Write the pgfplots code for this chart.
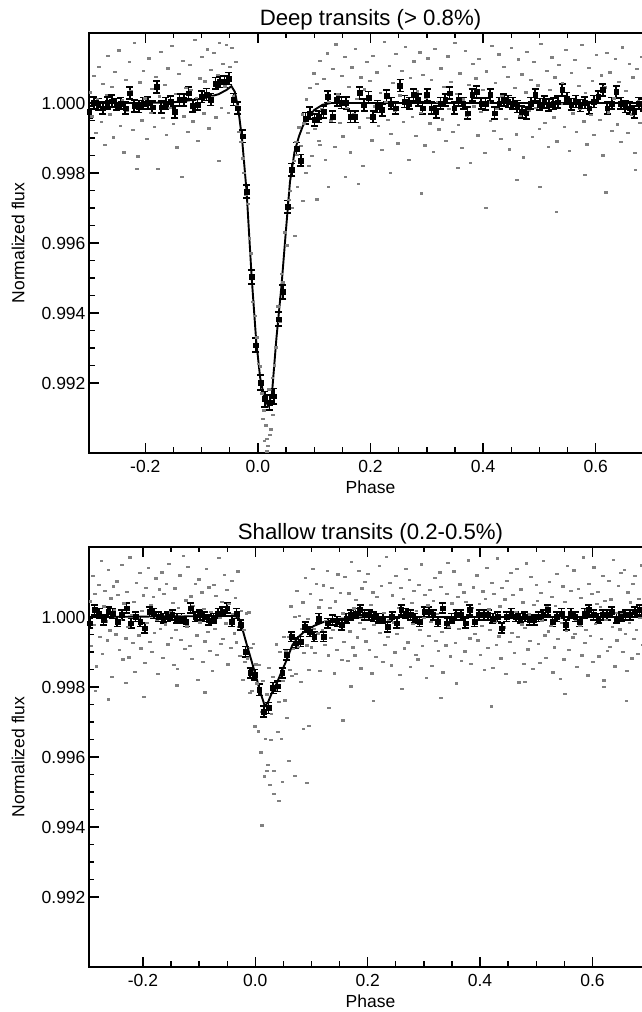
\documentclass[border=0pt]{standalone}
\usepackage{fontspec}
\setmainfont{Liberation Sans}
\usepackage{pgfplots}
\usepackage{pgfplotstable}
\pgfplotsset{compat=1.18}

% ---------- top panel: binned points ----------
\pgfplotstableread{
x y e
-0.2995 0.99975 0.00017
-0.2915 1.00000 0.00017
-0.2835 0.99996 0.00017
-0.2755 0.99985 0.00017
-0.2675 1.00000 0.00017
-0.2595 1.00005 0.00017
-0.2515 0.99996 0.00017
-0.2435 0.99999 0.00017
-0.2355 0.99985 0.00017
-0.2275 1.00028 0.00017
-0.2195 0.99992 0.00017
-0.2115 0.99990 0.00017
-0.2035 0.99999 0.00017
-0.1955 1.00000 0.00017
-0.1875 0.99988 0.00017
-0.1795 1.00046 0.00017
-0.1715 0.99988 0.00017
-0.1635 0.99999 0.00017
-0.1555 1.00003 0.00017
-0.1475 0.99975 0.00017
-0.1395 1.00009 0.00017
-0.1315 1.00009 0.00017
-0.1235 1.00028 0.00017
-0.1155 0.99992 0.00017
-0.1075 0.99996 0.00017
-0.0995 1.00018 0.00017
-0.0915 1.00024 0.00017
-0.0835 1.00010 0.00017
-0.0755 1.00056 0.00017
-0.0675 1.00061 0.00017
-0.0595 1.00061 0.00017
-0.0515 1.00070 0.00017
-0.0435 1.00010 0.00017
-0.0355 0.99985 0.00017
-0.0275 0.99905 0.00018
-0.0195 0.99747 0.00018
-0.0115 0.99503 0.00020
-0.0035 0.99308 0.00020
0.0045 0.99201 0.00022
0.0125 0.99154 0.00022
0.0205 0.99144 0.00022
0.0285 0.99162 0.00022
0.0365 0.99382 0.00020
0.0445 0.99460 0.00020
0.0525 0.99703 0.00018
0.0605 0.99809 0.00018
0.0685 0.99870 0.00017
0.0765 0.99836 0.00017
0.0845 0.99956 0.00017
0.0925 0.99971 0.00017
0.1005 0.99952 0.00017
0.1085 0.99961 0.00017
0.1165 0.99975 0.00017
0.1245 1.00018 0.00017
0.1325 0.99961 0.00017
0.1405 1.00009 0.00017
0.1485 1.00001 0.00017
0.1565 1.00000 0.00017
0.1645 0.99961 0.00017
0.1725 0.99961 0.00017
0.1805 1.00029 0.00017
0.1885 0.99994 0.00017
0.1965 1.00016 0.00017
0.2045 0.99961 0.00017
0.2125 0.99990 0.00017
0.2205 0.99980 0.00017
0.2285 1.00020 0.00017
0.2365 0.99999 0.00017
0.2445 0.99985 0.00017
0.2525 1.00050 0.00017
0.2605 1.00004 0.00017
0.2685 0.99999 0.00017
0.2765 1.00023 0.00017
0.2845 1.00009 0.00017
0.2925 0.99985 0.00017
0.3005 1.00023 0.00017
0.3085 0.99985 0.00017
0.3165 0.99975 0.00017
0.3245 0.99999 0.00017
0.3325 1.00009 0.00017
0.3405 1.00028 0.00017
0.3485 0.99985 0.00017
0.3565 1.00009 0.00017
0.3645 0.99999 0.00017
0.3725 0.99971 0.00017
0.3805 1.00023 0.00017
0.3885 1.00032 0.00017
0.3965 0.99999 0.00017
0.4045 0.99997 0.00017
0.4125 1.00023 0.00017
0.4205 0.99971 0.00017
0.4285 0.99999 0.00017
0.4365 1.00009 0.00017
0.4445 1.00004 0.00017
0.4525 0.99999 0.00017
0.4605 0.99990 0.00017
0.4685 0.99975 0.00017
0.4765 0.99971 0.00017
0.4845 0.99999 0.00017
0.4925 1.00023 0.00017
0.5005 0.99996 0.00017
0.5085 1.00003 0.00017
0.5165 0.99994 0.00017
0.5245 0.99998 0.00017
0.5325 1.00002 0.00017
0.5405 1.00037 0.00017
0.5485 1.00013 0.00017
0.5565 0.99996 0.00017
0.5645 1.00004 0.00017
0.5725 0.99993 0.00017
0.5805 1.00001 0.00017
0.5885 0.99985 0.00017
0.5965 1.00004 0.00017
0.6045 1.00018 0.00017
0.6125 1.00037 0.00017
0.6205 0.99985 0.00017
0.6285 0.99999 0.00017
0.6365 1.00032 0.00017
0.6445 0.99999 0.00017
0.6525 0.99990 0.00017
0.6605 0.99985 0.00017
0.6685 0.99975 0.00017
0.6765 0.99999 0.00017
0.6845 0.99995 0.00017
0.6925 1.00000 0.00017
}\topbins

% ---------- top panel: individual measurements ----------
\pgfplotstableread{
x y
-0.2980 1.00031
-0.2949 0.99962
-0.2912 1.00078
-0.2886 0.99915
-0.2852 1.00012
-0.2823 1.00104
-0.2783 0.99947
-0.2759 1.00056
-0.2724 0.99881
-0.2694 1.00023
-0.2666 1.00135
-0.2635 0.99968
-0.2598 1.00047
-0.2572 0.99902
-0.2538 1.00089
-0.2509 0.99994
-0.2469 1.00151
-0.2445 0.99936
-0.2410 1.00008
-0.2380 0.99859
-0.2352 1.00066
-0.2321 0.99977
-0.2284 1.00118
-0.2258 1.00035
-0.2224 0.99924
-0.2195 1.00172
-0.2155 0.99989
-0.2131 0.99848
-0.2096 1.00059
-0.2066 0.99951
-0.2038 1.00093
-0.2007 1.00014
-0.1970 0.99897
-0.1944 1.00128
-0.1910 0.99972
-0.1881 1.00041
-0.1841 0.99933
-0.1817 1.00076
-0.1782 0.99812
-0.1752 1.00019
-0.1724 1.00147
-0.1693 0.99958
-0.1656 1.00052
-0.1630 0.99909
-0.1596 1.00099
-0.1567 0.99986
-0.1527 1.00163
-0.1503 0.99941
-0.1468 1.00027
-0.1438 0.99874
-0.1410 1.00083
-0.1379 1.00005
-0.1342 1.00121
-0.1316 0.99962
-0.1282 1.00044
-0.1253 0.99918
-0.1213 1.00109
-0.1189 1.00037
-0.1154 0.99948
-0.1124 1.00180
-0.1096 1.00015
-0.1065 0.99893
-0.1028 1.00071
-0.1002 1.00133
-0.0968 0.99971
-0.0939 1.00062
-0.0899 1.00154
-0.0875 0.99928
-0.0840 1.00095
-0.0810 1.00017
-0.0782 1.00143
-0.0751 0.99959
-0.0714 1.00081
-0.0688 1.00173
-0.0654 0.99986
-0.0625 1.00112
-0.0585 1.00048
-0.0561 1.00166
-0.0526 0.99973
-0.0496 1.00104
-0.0468 1.00157
-0.0437 1.00021
-0.0400 1.00118
-0.0374 0.99992
-0.0340 0.99918
-0.0311 0.99889
-0.0271 0.99842
-0.0247 0.99801
-0.0212 0.99739
-0.0182 0.99712
-0.0154 0.99614
-0.0123 0.99571
-0.0086 0.99433
-0.0060 0.99392
-0.0026 0.99331
0.0003 0.99256
0.0043 0.99248
0.0067 0.99171
0.0102 0.99122
0.0132 0.99079
0.0160 0.99041
0.0191 0.99182
0.0228 0.99068
0.0254 0.99215
0.0288 0.99251
0.0317 0.99302
0.0357 0.99419
0.0381 0.99376
0.0416 0.99512
0.0446 0.99488
0.0474 0.99631
0.0505 0.99594
0.0542 0.99724
0.0568 0.99749
0.0602 0.99812
0.0631 0.99835
0.0671 0.99889
0.0695 0.99853
0.0730 0.99931
0.0760 0.99878
0.0788 0.99968
0.0819 0.99942
0.0856 1.00011
0.0882 0.99915
0.0916 1.00043
0.0945 0.99968
0.0985 1.00085
0.1009 0.99927
0.1044 1.00056
0.1074 0.99893
0.1102 1.00121
0.1133 0.99982
0.1170 1.00069
0.1196 0.99838
0.1230 1.00142
0.1259 1.00003
0.1299 0.99951
0.1323 1.00097
0.1358 0.99876
0.1388 1.00168
0.1416 1.00025
0.1447 0.99944
0.1484 1.00078
0.1510 0.99905
0.1544 1.00133
0.1573 0.99987
0.1613 1.00046
0.1637 0.99859
0.1672 1.00102
0.1702 0.99968
0.1730 1.00155
0.1761 1.00012
0.1798 0.99931
0.1824 1.00074
0.1858 0.99821
0.1887 1.00039
0.1927 1.00117
0.1951 0.99957
0.1986 1.00063
0.2016 0.99894
0.2044 1.00136
0.2075 0.99991
0.2112 1.00088
0.2138 0.99936
0.2172 1.00029
0.2201 0.99867
0.2241 1.00176
0.2265 1.00004
0.2300 0.99952
0.2330 1.00107
0.2358 0.99913
0.2389 1.00058
0.2426 0.99979
0.2452 1.00141
0.2486 0.99885
0.2515 1.00022
0.2555 1.00093
0.2579 0.99946
0.2614 1.00161
0.2644 0.99999
0.2672 0.99838
0.2703 1.00072
0.2740 0.99961
0.2766 1.00119
0.2800 0.99906
0.2829 1.00034
0.2869 1.00145
0.2893 0.99972
0.2928 1.00081
0.2958 0.99879
0.2986 1.00015
0.3017 1.00128
0.3054 0.99942
0.3080 1.00067
0.3114 0.99861
0.3143 1.00156
0.3183 1.00003
0.3207 0.99925
0.3242 1.00099
0.3272 0.99954
0.3300 1.00047
0.3331 0.99892
0.3368 1.00134
0.3394 0.99983
0.3428 1.00061
0.3457 0.99918
0.3497 1.00172
0.3521 1.00026
0.3556 0.99937
0.3586 1.00085
0.3614 0.99873
0.3645 1.00011
0.3682 1.00149
0.3708 0.99965
0.3742 1.00053
0.3771 0.99829
0.3811 1.00113
0.3835 0.99991
0.3870 1.00071
0.3900 0.99908
0.3928 1.00127
0.3959 0.99976
0.3996 1.00038
0.4022 0.99857
0.4056 1.00091
0.4085 1.00002
0.4125 0.99949
0.4149 1.00163
0.4184 0.99921
0.4214 1.00057
0.4242 0.99983
0.4273 1.00139
0.4310 0.99897
0.4336 1.00019
0.4370 1.00104
0.4399 0.99955
0.4439 1.00076
0.4463 0.99868
0.4498 1.00158
0.4528 0.99994
0.4556 1.00044
0.4587 0.99911
0.4624 1.00125
0.4650 0.99963
0.4684 1.00082
0.4713 0.99845
0.4753 1.00031
0.4777 1.00147
0.4812 0.99978
0.4842 1.00066
0.4870 0.99903
0.4901 1.00118
0.4938 0.99987
0.4964 1.00051
0.4998 0.99926
0.5027 1.00169
0.5067 1.00008
0.5091 0.99944
0.5126 1.00092
0.5156 0.99876
0.5184 1.00037
0.5215 1.00131
0.5252 0.99959
0.5278 1.00074
0.5312 0.99891
0.5341 1.00109
0.5381 0.99997
0.5405 1.00058
0.5440 0.99932
0.5470 1.00152
0.5498 1.00013
0.5529 0.99864
0.5566 1.00087
0.5592 0.99971
0.5626 1.00124
0.5655 0.99917
0.5695 1.00049
0.5719 0.99985
0.5754 1.00166
0.5784 0.99948
0.5812 1.00029
0.5843 0.99882
0.5880 1.00101
0.5906 0.99966
0.5940 1.00063
0.5969 0.99909
0.6009 1.00137
0.6033 1.00018
0.6068 0.99953
0.6098 1.00079
0.6126 0.99851
0.6157 1.00045
0.6194 1.00143
0.6220 0.99974
0.6254 1.00088
0.6283 0.99921
0.6323 1.00014
0.6347 1.00127
0.6382 0.99939
0.6412 1.00061
0.6440 0.99889
0.6471 1.00159
0.6508 0.99992
0.6534 1.00036
0.6568 0.99915
0.6597 1.00112
0.6637 0.99968
0.6661 1.00074
0.6696 0.99857
0.6726 1.00098
0.6754 1.00005
0.6785 0.99943
0.6822 1.00132
0.6848 0.99979
0.6882 1.00057
0.6911 0.99902
0.6951 1.00119
0.6975 0.99961
-0.2150 0.99812
-0.1350 0.99790
-0.0700 0.99835
0.0900 0.99820
0.1050 0.99725
0.1250 0.99760
0.1550 0.99790
0.1780 0.99770
0.2350 0.99800
0.2900 0.99742
0.3550 0.99815
0.4050 0.99700
0.4600 0.99780
0.5000 0.99760
0.5300 0.99690
0.5800 0.99795
0.6180 0.99745
0.6700 0.99810
0.0080 0.99098
0.0110 0.99035
0.0170 0.99021
0.0210 0.99052
0.0260 0.99110
0.0150 0.99005
0.0600 0.99700
0.0650 0.99620
0.0700 0.99760
0.0800 0.99720
0.0850 0.99800
0.0950 0.99850
0.1100 0.99880
}\topscatter

% ---------- bottom panel: binned points ----------
\pgfplotstableread{
x y e
-0.29450 0.99982 0.00014
-0.28635 1.00020 0.00014
-0.27820 1.00010 0.00014
-0.27005 0.99991 0.00014
-0.26190 1.00015 0.00014
-0.25375 1.00010 0.00014
-0.24560 0.99987 0.00014
-0.23745 1.00006 0.00014
-0.22930 1.00025 0.00014
-0.22115 0.99982 0.00014
-0.21300 1.00001 0.00014
-0.20485 0.99987 0.00014
-0.19670 0.99968 0.00014
-0.18855 1.00015 0.00014
-0.18040 1.00010 0.00014
-0.17225 1.00001 0.00014
-0.16410 0.99996 0.00014
-0.15595 1.00001 0.00014
-0.14780 1.00006 0.00014
-0.13965 0.99996 0.00014
-0.13150 0.99996 0.00014
-0.12335 0.99987 0.00014
-0.11520 1.00025 0.00014
-0.10705 1.00001 0.00014
-0.09890 1.00006 0.00014
-0.09075 1.00001 0.00014
-0.08260 0.99991 0.00014
-0.07445 0.99996 0.00014
-0.06630 1.00010 0.00014
-0.05815 1.00015 0.00014
-0.05000 1.00025 0.00014
-0.04185 0.99987 0.00014
-0.03370 1.00010 0.00014
-0.02555 0.99977 0.00014
-0.01740 0.99901 0.00015
-0.00925 0.99840 0.00015
-0.00110 0.99835 0.00015
0.00705 0.99792 0.00016
0.01520 0.99730 0.00016
0.02335 0.99740 0.00016
0.03150 0.99797 0.00016
0.03965 0.99802 0.00015
0.04780 0.99840 0.00015
0.05595 0.99892 0.00015
0.06410 0.99944 0.00014
0.07225 0.99925 0.00014
0.08040 0.99930 0.00014
0.08855 0.99972 0.00014
0.09670 0.99958 0.00014
0.10485 0.99944 0.00014
0.11300 0.99996 0.00014
0.12115 0.99944 0.00014
0.12930 0.99982 0.00014
0.13745 0.99991 0.00014
0.14560 0.99987 0.00014
0.15375 0.99977 0.00014
0.16190 0.99996 0.00014
0.17005 1.00006 0.00014
0.17820 1.00010 0.00014
0.18635 1.00020 0.00014
0.19450 1.00006 0.00014
0.20265 1.00006 0.00014
0.21080 1.00001 0.00014
0.21895 0.99996 0.00014
0.22710 0.99996 0.00014
0.23525 0.99972 0.00014
0.24340 1.00001 0.00014
0.25155 0.99982 0.00014
0.25970 1.00020 0.00014
0.26785 1.00010 0.00014
0.27600 1.00006 0.00014
0.28415 0.99996 0.00014
0.29230 0.99987 0.00014
0.30045 1.00015 0.00014
0.30860 1.00015 0.00014
0.31675 1.00006 0.00014
0.32490 0.99987 0.00014
0.33305 1.00025 0.00014
0.34120 0.99982 0.00014
0.34935 0.99996 0.00014
0.35750 1.00006 0.00014
0.36565 1.00006 0.00014
0.37380 0.99982 0.00014
0.38195 1.00020 0.00014
0.39010 0.99987 0.00014
0.39825 1.00006 0.00014
0.40640 1.00006 0.00014
0.41455 1.00006 0.00014
0.42270 0.99996 0.00014
0.43085 1.00001 0.00014
0.43900 0.99968 0.00014
0.44715 1.00001 0.00014
0.45530 1.00010 0.00014
0.46345 1.00001 0.00014
0.47160 0.99996 0.00014
0.47975 1.00001 0.00014
0.48790 0.99991 0.00014
0.49605 0.99991 0.00014
0.50420 1.00001 0.00014
0.51235 1.00006 0.00014
0.52050 1.00020 0.00014
0.52865 0.99987 0.00014
0.53680 1.00001 0.00014
0.54495 1.00010 0.00014
0.55310 0.99977 0.00014
0.56125 1.00010 0.00014
0.56940 1.00001 0.00014
0.57755 0.99987 0.00014
0.58570 1.00010 0.00014
0.59385 1.00020 0.00014
0.60200 1.00006 0.00014
0.61015 0.99996 0.00014
0.61830 1.00006 0.00014
0.62645 1.00006 0.00014
0.63460 1.00015 0.00014
0.64275 0.99996 0.00014
0.65090 1.00001 0.00014
0.65905 1.00006 0.00014
0.66720 1.00006 0.00014
0.67535 1.00015 0.00014
0.68350 1.00020 0.00014
0.69165 1.00010 0.00014
0.69980 1.00006 0.00014
}\botbins

% ---------- bottom panel: individual measurements ----------
\pgfplotstableread{
x y
-0.2940 1.00045
-0.2919 0.99918
-0.2894 1.00118
-0.2876 0.99977
-0.2853 1.00067
-0.2833 0.99859
-0.2807 1.00012
-0.2788 1.00093
-0.2766 0.99943
-0.2742 1.00160
-0.2725 0.99896
-0.2704 1.00031
-0.2679 1.00076
-0.2661 0.99988
-0.2638 0.99934
-0.2618 1.00135
-0.2592 0.99962
-0.2573 1.00054
-0.2551 0.99830
-0.2527 1.00088
-0.2510 1.00021
-0.2489 0.99951
-0.2464 1.00102
-0.2446 1.00064
-0.2423 0.99907
-0.2403 0.99993
-0.2377 1.00149
-0.2358 0.99879
-0.2336 1.00039
-0.2312 0.99939
-0.2295 1.00073
-0.2274 0.99972
-0.2249 0.99885
-0.2231 1.00171
-0.2208 1.00006
-0.2188 0.99926
-0.2162 1.00043
-0.2143 0.99844
-0.2121 1.00097
-0.2097 0.99997
-0.2080 0.99948
-0.2059 1.00126
-0.2034 0.99911
-0.2016 1.00018
-0.1993 1.00062
-0.1973 0.99869
-0.1947 1.00084
-0.1928 0.99983
-0.1906 1.00140
-0.1882 0.99930
-0.1865 1.00035
-0.1844 0.99901
-0.1819 1.00057
-0.1801 0.99955
-0.1778 1.00111
-0.1758 0.99992
-0.1732 0.99837
-0.1713 1.00079
-0.1691 0.99966
-0.1667 1.00128
-0.1650 0.99883
-0.1629 1.00066
-0.1604 0.99979
-0.1586 1.00095
-0.1563 0.99922
-0.1543 1.00152
-0.1517 1.00014
-0.1498 0.99941
-0.1476 1.00041
-0.1452 0.99864
-0.1435 1.00082
-0.1414 0.99963
-0.1389 0.99852
-0.1371 1.00027
-0.1348 1.00119
-0.1328 0.99936
-0.1302 1.00003
-0.1283 1.00175
-0.1261 0.99909
-0.1237 1.00048
-0.1220 0.99974
-0.1199 1.00143
-0.1174 0.99917
-0.1156 1.00059
-0.1133 0.99881
-0.1113 1.00033
-0.1087 0.99996
-0.1068 1.00096
-0.1046 0.99948
-0.1022 0.99820
-0.1005 1.00108
-0.0984 0.99985
-0.0959 1.00071
-0.0941 0.99872
-0.0918 1.00024
-0.0898 0.99931
-0.0872 1.00137
-0.0853 0.99958
-0.0831 1.00085
-0.0807 0.99903
-0.0790 1.00016
-0.0769 0.99846
-0.0744 1.00092
-0.0726 0.99967
-0.0703 1.00061
-0.0683 0.99893
-0.0657 1.00169
-0.0638 0.99998
-0.0616 0.99924
-0.0592 1.00044
-0.0575 0.99937
-0.0554 1.00121
-0.0529 0.99982
-0.0511 1.00077
-0.0488 0.99865
-0.0468 1.00038
-0.0442 0.99912
-0.0423 1.00104
-0.0401 1.00009
-0.0377 0.99954
-0.0360 1.00055
-0.0339 0.99928
-0.0314 1.00131
-0.0296 0.99972
-0.0273 0.99890
-0.0253 1.00017
-0.0227 0.99820
-0.0208 0.99963
-0.0186 0.99872
-0.0162 1.00011
-0.0145 0.99882
-0.0124 1.00014
-0.0099 0.99783
-0.0081 0.99912
-0.0058 0.99789
-0.0038 0.99923
-0.0012 0.99688
0.0007 0.99865
0.0029 0.99811
0.0053 0.99674
0.0070 0.99864
0.0091 0.99614
0.0116 0.99729
0.0134 0.99818
0.0157 0.99545
0.0177 0.99653
0.0203 0.99779
0.0222 0.99577
0.0244 0.99856
0.0268 0.99649
0.0285 0.99723
0.0306 0.99829
0.0331 0.99561
0.0349 0.99792
0.0372 0.99922
0.0392 0.99672
0.0418 0.99757
0.0437 0.99901
0.0459 0.99652
0.0483 0.99818
0.0500 0.99943
0.0521 0.99762
0.0546 0.99902
0.0564 0.99713
0.0587 0.99944
0.0607 0.99849
0.0633 1.00031
0.0652 0.99832
0.0674 0.99910
0.0698 1.00001
0.0715 0.99837
0.0736 1.00076
0.0761 0.99916
0.0779 1.00003
0.0802 0.99816
0.0822 0.99966
0.0848 1.00042
0.0867 0.99897
0.0889 1.00113
0.0913 0.99919
0.0930 0.99996
0.0951 0.99849
0.0976 1.00066
0.0994 0.99914
0.1017 1.00137
0.1037 0.99966
0.1063 0.99897
0.1082 1.00096
0.1104 0.99954
0.1128 1.00028
0.1145 0.99846
0.1166 1.00049
0.1191 0.99963
0.1209 1.00091
0.1232 0.99920
0.1252 0.99988
0.1278 1.00132
0.1297 0.99891
0.1319 1.00027
0.1343 0.99941
0.1360 1.00084
0.1381 0.99964
0.1406 0.99839
0.1424 1.00045
0.1447 0.99906
0.1467 1.00122
0.1493 0.99982
0.1512 1.00069
0.1534 0.99878
0.1558 1.00011
0.1575 0.99929
0.1596 1.00116
0.1621 0.99997
0.1639 0.99876
0.1662 1.00068
0.1682 0.99959
0.1708 1.00157
0.1727 0.99914
0.1749 1.00025
0.1773 0.99891
0.1790 1.00049
0.1811 0.99942
0.1836 1.00133
0.1854 0.99983
0.1877 0.99854
0.1897 1.00082
0.1923 0.99967
0.1942 1.00101
0.1964 0.99931
0.1988 1.00007
0.2005 1.00123
0.2026 0.99906
0.2051 1.00036
0.2069 0.99839
0.2092 1.00071
0.2112 0.99978
0.2138 0.99887
0.2157 1.00058
0.2179 0.99995
0.2203 1.00146
0.2220 0.99956
0.2241 1.00089
0.2266 0.99873
0.2284 1.00013
0.2307 0.99921
0.2327 1.00172
0.2353 0.99944
0.2372 0.99992
0.2394 1.00097
0.2418 0.99862
0.2435 1.00062
0.2456 0.99985
0.2481 0.99899
0.2499 1.00118
0.2522 0.99953
0.2542 1.00026
0.2568 0.99835
0.2587 1.00084
0.2609 0.99969
0.2633 1.00053
0.2650 0.99911
0.2671 1.00137
0.2696 1.00004
0.2714 0.99928
0.2737 1.00106
0.2757 0.99857
0.2783 1.00041
0.2802 0.99981
0.2824 1.00075
0.2848 0.99892
0.2865 1.00017
0.2886 0.99879
0.2911 1.00092
0.2929 0.99964
0.2952 1.00151
0.2972 0.99917
0.2998 0.99998
0.3017 1.00063
0.3039 0.99826
0.3063 1.00034
0.3080 0.99947
0.3101 1.00078
0.3126 0.99986
0.3144 0.99861
0.3167 1.00046
0.3187 1.00113
0.3213 0.99933
0.3232 1.00009
0.3254 0.99904
0.3278 1.00128
0.3295 1.00086
0.3316 0.99958
0.3341 0.99842
0.3359 1.00024
0.3382 0.99919
0.3402 1.00067
0.3428 1.00155
0.3447 0.99973
0.3469 0.99888
0.3493 1.00039
0.3510 0.99994
0.3531 1.00131
0.3556 0.99926
0.3574 0.99811
0.3597 1.00058
0.3617 0.99967
0.3643 1.00094
0.3662 0.99875
0.3684 1.00012
0.3708 1.00071
0.3725 0.99902
0.3746 1.00044
0.3771 0.99981
0.3789 1.00162
0.3812 0.99939
0.3832 0.99867
0.3858 1.00027
0.3877 1.00085
0.3899 0.99953
0.3923 0.99992
0.3940 1.00119
0.3961 0.99934
0.3986 1.00038
0.4004 0.99893
0.4027 0.99976
0.4047 1.00074
0.4073 0.99849
0.4092 1.00053
0.4114 1.00141
0.4138 0.99912
0.4155 1.00022
0.4176 0.99963
0.4201 1.00097
0.4219 0.99856
0.4242 1.00066
0.4262 0.99988
0.4288 0.99921
0.4307 1.00168
0.4329 0.99945
0.4353 1.00031
0.4370 0.99882
0.4391 1.00083
0.4416 0.99971
0.4434 1.00051
0.4457 0.99838
0.4477 1.00104
0.4503 0.99996
0.4522 0.99929
0.4544 1.00126
0.4568 0.99955
0.4585 1.00064
0.4606 0.99897
0.4631 1.00015
0.4649 1.00138
0.4672 0.99943
0.4692 0.99814
0.4718 1.00079
0.4737 0.99979
0.4759 1.00042
0.4783 0.99866
0.4800 0.99969
0.4821 1.00154
0.4846 0.99908
0.4864 1.00008
0.4887 0.99932
0.4907 1.00115
0.4933 0.99853
0.4952 1.00036
0.4974 0.99987
0.4998 1.00092
0.5015 1.00047
0.5036 0.99924
0.5061 0.99869
0.5079 1.00069
0.5102 0.99991
0.5122 1.00161
0.5148 0.99948
0.5167 0.99884
0.5189 1.00028
0.5213 0.99959
0.5230 1.00101
0.5251 0.99976
0.5276 1.00057
0.5294 0.99842
0.5317 0.99914
0.5337 1.00033
0.5363 1.00124
0.5382 0.99937
0.5404 0.99999
0.5428 0.99823
0.5445 0.99984
0.5466 1.00088
0.5491 0.99879
0.5509 1.00043
0.5532 0.99961
0.5552 1.00147
0.5578 0.99906
0.5597 1.00011
0.5619 1.00076
0.5643 0.99942
0.5660 1.00134
0.5681 0.99953
0.5706 0.99994
0.5724 0.99858
0.5747 1.00081
0.5767 0.99975
0.5793 1.00056
0.5812 0.99891
0.5834 1.00171
0.5858 0.99927
0.5875 0.99963
0.5896 1.00019
0.5921 0.99834
0.5939 1.00095
0.5962 0.99946
0.5982 1.00066
0.6008 0.99872
0.6027 1.00142
0.6049 0.99981
0.6073 1.00037
0.6090 1.00073
0.6111 0.99888
0.6136 1.00029
0.6154 0.99937
0.6177 1.00118
0.6197 0.99819
0.6223 1.00046
0.6242 0.99992
0.6264 0.99904
0.6288 1.00104
0.6305 0.99916
0.6326 1.00051
0.6351 0.99973
0.6369 1.00163
0.6392 0.99859
0.6412 1.00012
0.6438 0.99934
0.6457 1.00089
0.6479 0.99965
0.6503 1.00127
0.6520 1.00008
0.6541 0.99901
0.6566 1.00136
0.6584 0.99952
0.6607 0.99847
0.6627 1.00071
0.6653 0.99983
0.6672 1.00042
0.6694 0.99882
0.6718 1.00096
0.6735 0.99938
0.6756 1.00117
0.6781 0.99964
0.6799 0.99895
0.6822 1.00053
0.6842 0.99998
0.6868 1.00148
0.6887 0.99921
0.6909 1.00024
0.6933 0.99869
0.6950 1.00065
0.6971 0.99957
0.6996 1.00109
0.7014 0.99912
0.7037 1.00014
-0.2850 0.99790
-0.2620 0.99765
-0.2310 0.99812
-0.1980 0.99772
-0.1400 0.99805
-0.0900 0.99785
0.0950 0.99690
0.1300 0.99740
0.1550 0.99705
0.1700 0.99802
0.2100 0.99760
0.2600 0.99795
0.3300 0.99770
0.4200 0.99745
0.4800 0.99815
0.5500 0.99780
0.6200 0.99800
0.6600 0.99760
0.0120 0.99405
0.0250 0.99520
0.0330 0.99495
0.0410 0.99475
0.0200 0.99560
0.0480 0.99530
0.0600 0.99590
0.0700 0.99547
0.0850 0.99680
0.0910 0.99527
}\botscatter

\pgfplotsset{
  panel/.style={
    scale only axis, width=563pt, height=420pt,
    ymin=0.990, ymax=1.002,
    scaled x ticks=false, scaled y ticks=false,
    xtick={-0.2,0,0.2,0.4,0.6},
    ytick={0.992,0.994,0.996,0.998,1.000},
    minor x tick num=3, minor y tick num=3,
    axis line style={line width=2pt},
    tick style={line width=1.4pt, black},
    major tick length=10pt, minor tick length=5.5pt,
    /pgf/number format/assume math mode=true,
    tick label style={font=\fontsize{17.5}{21}\selectfont, black},
    x tick label style={/pgf/number format/.cd, fixed, fixed zerofill, precision=1, /tikz/.cd, yshift=-4pt},
    y tick label style={/pgf/number format/.cd, fixed, fixed zerofill, precision=3, /tikz/.cd},
    xlabel={Phase}, ylabel={Normalized flux},
    every axis x label/.style={at={(axis description cs:0.5,-0.0976)}, anchor=base, font=\fontsize{17.5}{21}\selectfont},
    every axis y label/.style={at={(axis description cs:-0.1261,0.5)}, rotate=90, anchor=center, font=\fontsize{17.5}{21}\selectfont},
    every axis title/.style={at={(axis description cs:0.5,1.019)}, anchor=base, font=\fontsize{22.2}{26}\selectfont},
  },
  scatterpts/.style={only marks, mark=square*, mark size=0.65pt, color=black!50, mark options={xscale=2.1, draw=none, fill=black!50}},
  binpts/.style={only marks, mark=square*, mark size=2.4pt, black,
    error bars/.cd, y dir=both, y explicit,
    error bar style={line width=1.7pt, black},
    error mark options={rotate=90, line width=1.7pt, mark size=3.5pt, black}},
  modelline/.style={black, line width=1.9pt, no marks},
}

\begin{document}
\begin{tikzpicture}[x=1pt,y=1pt]
\begin{axis}[panel, at={(89pt,559pt)}, anchor=south west,
  xmin=-0.3, xmax=0.7, title={Deep transits (> 0.8\%)}]
\addplot[scatterpts] table[x=x,y=y] {\topscatter};
\addplot[modelline] coordinates {(-0.300,1.00000) (-0.200,1.00000) (-0.150,1.00002) (-0.100,1.00012) (-0.070,1.00025) (-0.055,1.00038) (-0.047,1.00048) (-0.041,1.00032) (-0.035,0.99985) (-0.028,0.99895) (-0.020,0.99745) (-0.011,0.99500) (-0.003,0.99320) (0.004,0.99215) (0.011,0.99160) (0.018,0.99135) (0.025,0.99170) (0.033,0.99330) (0.042,0.99480) (0.050,0.99640) (0.057,0.99775) (0.065,0.99860) (0.073,0.99905) (0.080,0.99935) (0.090,0.99960) (0.100,0.99980) (0.115,0.99995) (0.130,1.00000) (0.700,1.00000)};
\addplot[binpts] table[x=x,y=y,y error=e] {\topbins};
\end{axis}
\begin{axis}[panel, at={(89pt,45pt)}, anchor=south west,
  xmin=-0.296, xmax=0.706, title={Shallow transits (0.2-0.5\%)}]
\addplot[scatterpts] table[x=x,y=y] {\botscatter};
\addplot[modelline] coordinates {(-0.300,1.00000) (-0.040,1.00003) (-0.030,1.00000) (-0.022,0.99960) (-0.015,0.99920) (-0.005,0.99865) (0.003,0.99820) (0.010,0.99780) (0.017,0.99745) (0.023,0.99758) (0.030,0.99785) (0.038,0.99810) (0.047,0.99845) (0.056,0.99878) (0.066,0.99920) (0.078,0.99945) (0.090,0.99962) (0.105,0.99975) (0.120,0.99985) (0.150,0.99995) (0.200,1.00000) (0.706,1.00000)};
\addplot[binpts] table[x=x,y=y,y error=e] {\botbins};
\end{axis}
\pgfresetboundingbox
\useasboundingbox (0,0) rectangle (641,1012);
\end{tikzpicture}
\end{document}
